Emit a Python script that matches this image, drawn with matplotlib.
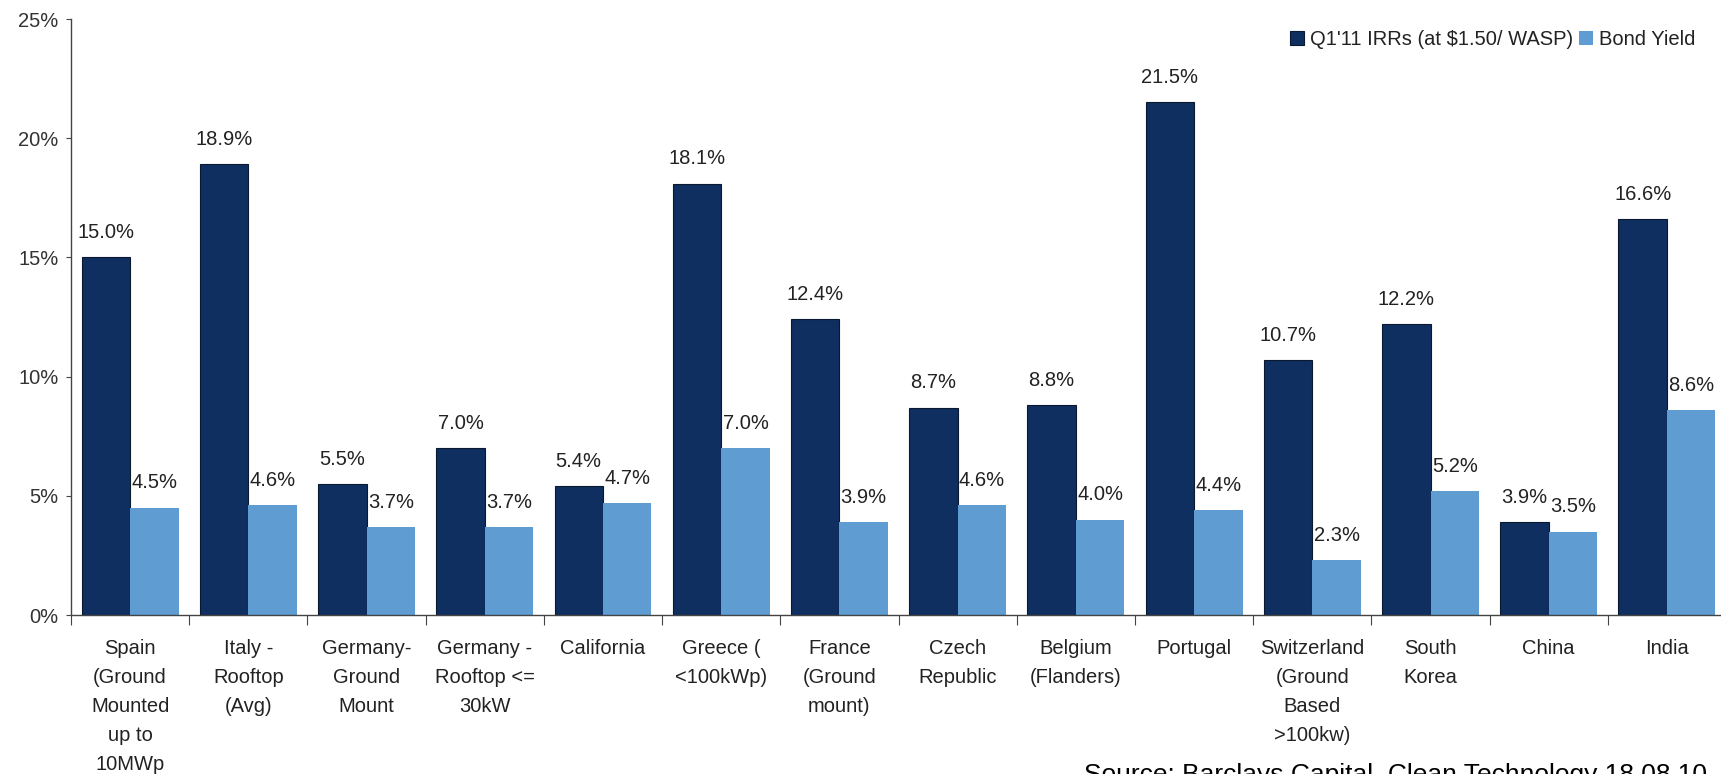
import numpy as np
import matplotlib
matplotlib.use("Agg")
import matplotlib.pyplot as plt
from matplotlib.ticker import FixedLocator, PercentFormatter

plt.rcParams['font.family'] = ['Liberation Sans', 'DejaVu Sans']

# data (%)
categories = ["Spain\n(Ground\nMounted\nup to\n10MWp", "Italy -\nRooftop\n(Avg)",
              "Germany-\nGround\nMount", "Germany -\nRooftop <=\n30kW", "California",
              "Greece (\n<100kWp)", "France\n(Ground\nmount)", "Czech\nRepublic",
              "Belgium\n(Flanders)", "Portugal", "Switzerland\n(Ground\nBased\n>100kw)",
              "South\nKorea", "China", "India"]
irr = [15.0, 18.9, 5.5, 7.0, 5.4, 18.1, 12.4, 8.7, 8.8, 21.5, 10.7, 12.2, 3.9, 16.6]
bond = [4.5, 4.6, 3.7, 3.7, 4.7, 7.0, 3.9, 4.6, 4.0, 4.4, 2.3, 5.2, 3.5, 8.6]
series_names = ["Q1'11 IRRs (at $1.50/ WASP)", "Bond Yield"]

dark = '#0F2F60'
light = '#5E9CD2'
txt = '#222222'

fig = plt.figure(figsize=(17.21, 7.74), dpi=100)
# axis runs a little past the right edge, as in the original
ax = fig.add_axes([0.04125, 0.2054, 0.9617, 0.7700])

x = np.arange(len(categories))
w = 0.41
b1 = ax.bar(x - w / 2, irr, w, color=dark, edgecolor='#0A1830', linewidth=0.8,
            label=series_names[0])
b2 = ax.bar(x + w / 2, bond, w, color=light, label=series_names[1])

for bars, vals in ((b1, irr), (b2, bond)):
    for rect, v in zip(bars, vals):
        ax.annotate(f"{v:.1f}%", (rect.get_x() + rect.get_width() / 2, v),
                    xytext=(0, 11), textcoords='offset points',
                    ha='center', va='bottom', fontsize=14.5, color=txt)

ax.set_xlim(-0.5, len(categories) - 0.5)
ax.set_ylim(0, 25)
ax.yaxis.set_major_locator(FixedLocator([0, 5, 10, 15, 20, 25]))
ax.yaxis.set_major_formatter(PercentFormatter(decimals=0))

ax.xaxis.set_major_locator(FixedLocator(np.arange(len(categories) + 1) - 0.5))
ax.xaxis.set_major_formatter(plt.NullFormatter())
ax.xaxis.set_minor_locator(FixedLocator(x))
ax.set_xticklabels(categories, minor=True, fontsize=14.5, linespacing=1.68,
                   va='top', ha='center', color=txt)
ax.tick_params(axis='x', which='minor', length=0, pad=17)
ax.tick_params(axis='x', which='major', length=7.5, direction='out', color='#444444')
ax.tick_params(axis='y', length=3.6, direction='out', labelsize=14.5, color='#444444',
               labelcolor='#333333', pad=5.5)

for s in ['top', 'right']:
    ax.spines[s].set_visible(False)
for s in ['left', 'bottom']:
    ax.spines[s].set_color('#444444')
    ax.spines[s].set_linewidth(1.0)

leg = ax.legend(loc='upper right', bbox_to_anchor=(0.988, 1.0), ncol=2, frameon=False,
                fontsize=14.5, handlelength=0.7, handleheight=0.7, handletextpad=0.3,
                columnspacing=0.25, borderaxespad=0.15)
for t in leg.get_texts():
    t.set_color(txt)

fig.text(0.6299, -0.0103, "Source: Barclays Capital, Clean Technology 18.08.10",
         fontsize=19, ha='left', va='baseline', color='#000000')

fig.savefig('out.png', dpi=100)
